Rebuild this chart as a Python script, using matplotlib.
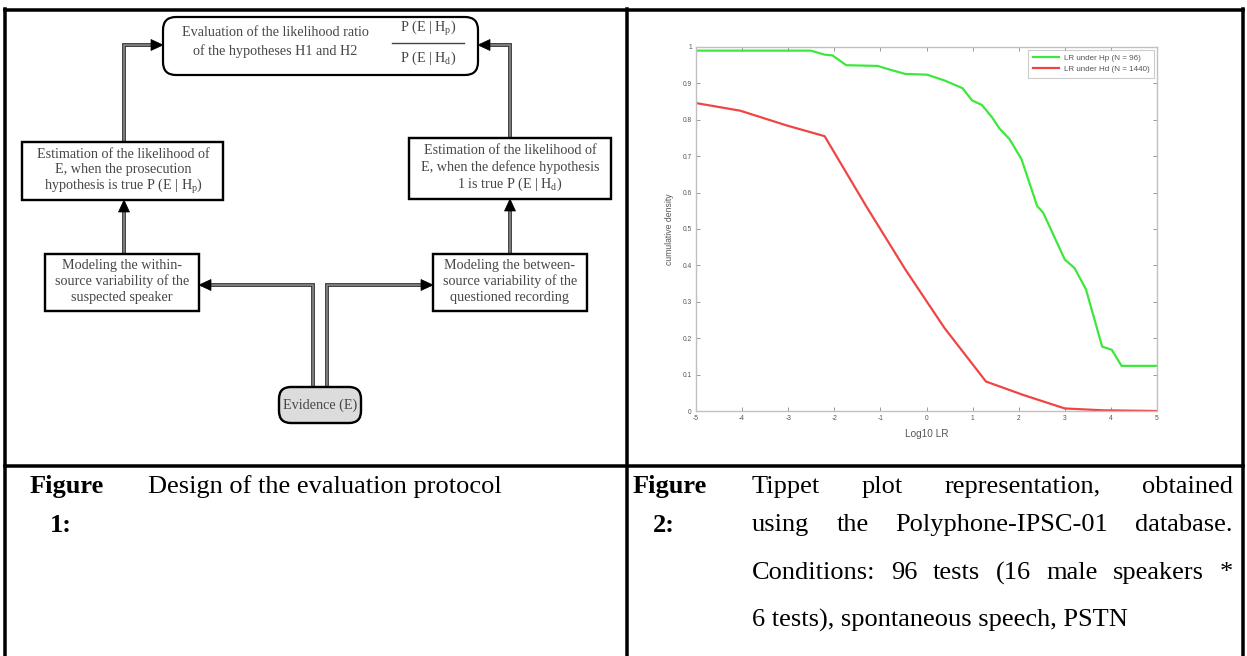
import matplotlib
matplotlib.use('Agg')
import matplotlib.pyplot as plt
from matplotlib.patches import Rectangle, FancyBboxPatch, Polygon

plt.rcParams['mathtext.fontset'] = 'custom'
plt.rcParams['mathtext.rm'] = 'Liberation Serif'
plt.rcParams['mathtext.it'] = 'Liberation Serif:italic'

# ---------------- data (Tippet plot) ----------------
hp_x = [-5.0, -2.51, -2.21, -2.04, -1.74, -1.06, -0.80, -0.46, 0.01, 0.39, 0.78, 0.99,
        1.20, 1.42, 1.59, 1.80, 2.06, 2.40, 2.53, 3.00, 3.21, 3.46, 3.81, 4.02, 4.23, 5.0]
hp_y = [0.99, 0.99, 0.979, 0.977, 0.95, 0.948, 0.938, 0.926, 0.924, 0.908, 0.887, 0.853,
        0.841, 0.807, 0.775, 0.747, 0.692, 0.563, 0.545, 0.416, 0.393, 0.334, 0.177, 0.168,
        0.124, 0.124]
hd_x = [-5.0, -4.04, -3.02, -2.21, -1.31, -0.46, 0.39, 1.29, 2.10, 3.0, 3.81, 5.0]
hd_y = [0.846, 0.825, 0.784, 0.755, 0.563, 0.389, 0.228, 0.081, 0.044, 0.007, 0.002, 0.0]
legend_labels = ['LR under Hp (N = 96)', 'LR under Hd (N = 1440)']
x_ticks = [-5, -4, -3, -2, -1, 0, 1, 2, 3, 4, 5]
y_ticks = [0, 0.1, 0.2, 0.3, 0.4, 0.5, 0.6, 0.7, 0.8, 0.9, 1.0]
y_tick_labels = ['0', '0.1', '0.2', '0.3', '0.4', '0.5', '0.6', '0.7', '0.8', '0.9', '1']

# ---------------- texts ----------------
top_box_text = ['Evaluation of the likelihood ratio', 'of the hypotheses H1 and H2']
frac_num = r'P (E | H$_\mathrm{p}$)'
frac_den = r'P (E | H$_\mathrm{d}$)'
left_mid_text = ['Estimation of the likelihood of', 'E, when the prosecution',
                 r'hypothesis is true P (E | H$_\mathrm{p}$)']
right_mid_text = ['Estimation of the likelihood of', 'E, when the defence hypothesis',
                  r'1 is true P (E | H$_\mathrm{d}$)']
left_bot_text = ['Modeling the within-', 'source variability of the', 'suspected speaker']
right_bot_text = ['Modeling the between-', 'source variability of the', 'questioned recording']
evidence_text = 'Evidence (E)'
cap1_label = ['Figure', '1:']
cap1_text = 'Design of the evaluation protocol'
cap2_label = ['Figure', '2:']
cap2_lines = ['Tippet plot representation, obtained',
              'using the Polyphone-IPSC-01 database.',
              'Conditions: 96 tests (16 male speakers *',
              '6 tests), spontaneous speech, PSTN']

W, H = 1247, 656
PX = 0.72  # points per pixel at dpi 100
SERIF = 'Liberation Serif'
SANS = 'Liberation Sans'

fig = plt.figure(figsize=(W / 100, H / 100), dpi=100)
ax0 = fig.add_axes([0, 0, 1, 1])
ax0.set_xlim(0, W)
ax0.set_ylim(H, 0)
ax0.axis('off')

# ---------------- table lines ----------------
tlw = 3.5 * PX
for xv in (5, 627, 1243):
    ax0.plot([xv, xv], [9, H], color='black', lw=tlw, solid_capstyle='projecting')
for yv in (10, 466):
    ax0.plot([5, 1243], [yv, yv], color='black', lw=tlw, solid_capstyle='projecting')

# ---------------- flowchart ----------------
TXT = '#474747'
FS = 10.2


def rect(x0, y0, x1, y1):
    ax0.add_patch(Rectangle((x0, y0), x1 - x0, y1 - y0, facecolor='white',
                            edgecolor='black', lw=2.4 * PX, zorder=3))


def lines_text(cx, ys, lines):
    for y, s in zip(ys, lines):
        ax0.text(cx, y, s, ha='center', va='center', fontsize=FS, family=SERIF,
                 color=TXT, zorder=4)


def connector(pts, direction):
    xs = [p[0] for p in pts]
    ys = [p[1] for p in pts]
    tx, ty = pts[-1]
    L, hw = 12, 5.5
    if direction == 'right':
        xs[-1] = tx - L + 1
        head = [(tx, ty), (tx - L, ty - hw), (tx - L, ty + hw)]
    elif direction == 'left':
        xs[-1] = tx + L - 1
        head = [(tx, ty), (tx + L, ty - hw), (tx + L, ty + hw)]
    else:  # up
        ys[-1] = ty + L - 1
        head = [(tx, ty), (tx - hw, ty + L), (tx + hw, ty + L)]
    ax0.plot(xs, ys, color='#333333', lw=3.8 * PX, solid_joinstyle='miter', zorder=2)
    ax0.plot(xs, ys, color='#8c8c8c', lw=1.6 * PX, solid_joinstyle='miter', zorder=2)
    ax0.add_patch(Polygon(head, closed=True, facecolor='black', edgecolor='black',
                          lw=0.5, zorder=5))


# top rounded box
ax0.add_patch(FancyBboxPatch((163, 17), 315, 58,
                             boxstyle='round,pad=0,rounding_size=13',
                             facecolor='white', edgecolor='black', lw=2.2 * PX, zorder=3))
lines_text(275, [33, 51], top_box_text)
ax0.text(428, 29, frac_num, ha='center', va='center', fontsize=FS, family=SERIF,
         color=TXT, zorder=4)
ax0.plot([392, 464], [43, 43], color='#444444', lw=1.4 * PX, zorder=4)
ax0.text(428, 58, frac_den, ha='center', va='center', fontsize=FS, family=SERIF,
         color=TXT, zorder=4)

# middle boxes
rect(22, 142, 223, 200)
lines_text(123, [154, 170, 187], left_mid_text)
rect(409, 138, 611, 199)
lines_text(510, [151, 167, 184], right_mid_text)

# bottom boxes
rect(45, 254, 199, 311)
lines_text(122, [265, 281, 297], left_bot_text)
rect(433, 254, 587, 311)
lines_text(510, [265, 281, 297], right_bot_text)

# evidence
ax0.add_patch(FancyBboxPatch((279, 387), 82, 36,
                             boxstyle='round,pad=0,rounding_size=12',
                             facecolor='#dcdcdc', edgecolor='black', lw=2.4 * PX, zorder=3))
ax0.text(320, 405, evidence_text, ha='center', va='center', fontsize=FS, family=SERIF,
         color=TXT, zorder=4)

# connectors
connector([(124, 142), (124, 45), (163, 45)], 'right')
connector([(510, 138), (510, 45), (478, 45)], 'left')
connector([(124, 254), (124, 200)], 'up')
connector([(510, 254), (510, 199)], 'up')
connector([(313, 387), (313, 285), (199, 285)], 'left')
connector([(327, 387), (327, 285), (433, 285)], 'right')

# ---------------- captions ----------------
fig.canvas.draw()
rend = fig.canvas.get_renderer()
cap_fs = 19


def text_width(s, size, weight='normal'):
    t = ax0.text(0, 0, s, fontsize=size, family=SERIF, weight=weight)
    w = t.get_window_extent(rend).width
    t.remove()
    return w


CAP_Y = [487, 525, 573, 620]


def justified(s, x0, x1, y):
    words = s.split(' ')
    ws = [text_width(w_, cap_fs) for w_ in words]
    gap = (x1 - x0 - sum(ws)) / (len(words) - 1)
    x = x0
    for w_, ww in zip(words, ws):
        ax0.text(x, y, w_, ha='left', va='center', fontsize=cap_fs, family=SERIF,
                 color='black')
        x += ww + gap


for cx, lab in [(67, cap1_label), (670, cap2_label)]:
    ax0.text(cx, CAP_Y[0], lab[0], ha='center', va='center', fontsize=cap_fs,
             family=SERIF, weight='bold', color='black')
    ax0.text(cx - 6, CAP_Y[1], lab[1], ha='center', va='center', fontsize=cap_fs,
             family=SERIF, weight='bold', color='black')

ax0.text(148, CAP_Y[0], cap1_text, ha='left', va='center', fontsize=cap_fs,
         family=SERIF, color='black')

X0, X1 = 752, 1233
justified(cap2_lines[0], X0, X1, CAP_Y[0])
justified(cap2_lines[1], X0, X1, CAP_Y[1])
justified(cap2_lines[2], X0, X1, CAP_Y[2])
ax0.text(X0, CAP_Y[3], cap2_lines[3], ha='left', va='center', fontsize=cap_fs,
         family=SERIF, color='black')

# ---------------- Tippet plot ----------------
axp = fig.add_axes([696 / W, 1 - 411 / H, 461 / W, 364 / H])
axp.plot(hp_x, hp_y, color='#3be83b', lw=2.2 * PX, label=legend_labels[0])
axp.plot(hd_x, hd_y, color='#f04444', lw=2.2 * PX, label=legend_labels[1])
axp.set_xlim(-5, 5)
axp.set_ylim(0, 1)
axp.set_xticks(x_ticks)
axp.set_xticklabels([str(v) for v in x_ticks])
axp.set_yticks(y_ticks)
axp.set_yticklabels(y_tick_labels)
axp.tick_params(direction='in', length=3, width=0.6, colors='#8a8a8a',
                labelcolor='#555555', labelsize=4.8, top=True, right=True, pad=3)
for lab in axp.get_xticklabels() + axp.get_yticklabels():
    lab.set_family(SANS)
for sp in axp.spines.values():
    sp.set_color('#c0c0c0')
    sp.set_linewidth(1.0)
axp.set_xlabel('Log10 LR', fontsize=7.2, color='#555555', family=SANS, labelpad=5)
axp.set_ylabel('cumulative density', fontsize=6.2, color='#555555', family=SANS,
               labelpad=6)
leg = axp.legend(loc='upper right', frameon=True, fancybox=False,
                 handlelength=3.2, borderaxespad=0.35, borderpad=0.6, labelspacing=0.4,
                 handletextpad=0.6, prop={'family': SANS, 'size': 5.8})
leg.get_frame().set_edgecolor('#c0c0c0')
leg.get_frame().set_linewidth(0.8)
for t in leg.get_texts():
    t.set_color('#555555')

fig.savefig('out.png', dpi=100)
